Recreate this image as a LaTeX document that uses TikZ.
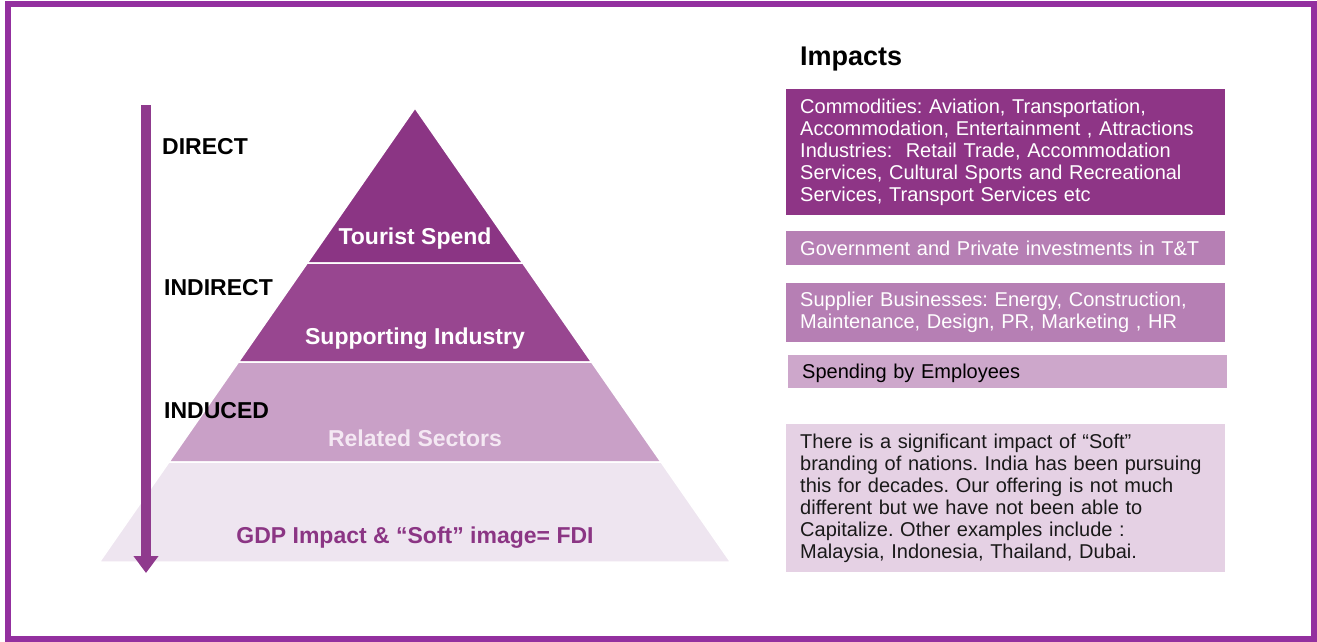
\documentclass[tikz,border=0pt]{standalone}
\usepackage{fontspec}
\setmainfont{Liberation Sans}
\usetikzlibrary{arrows.meta}
\frenchspacing

\definecolor{framepurple}{HTML}{93309F}
\definecolor{flowpurple}{HTML}{8F3A8D}
\definecolor{tierA}{HTML}{8B3584}
\definecolor{tierB}{HTML}{984690}
\definecolor{tierC}{HTML}{C9A0C7}
\definecolor{tierD}{HTML}{EEE5F0}
\definecolor{relatedtext}{HTML}{F4E8F3}
\definecolor{boxA}{HTML}{8E3586}
\definecolor{boxB}{HTML}{B67FB4}
\definecolor{boxC}{HTML}{CDA7CB}
\definecolor{boxD}{HTML}{E5D1E4}

\begin{document}
\begin{tikzpicture}[x=1pt, y=-1pt,
        tierlabel/.style={font=\bfseries\fontsize{23}{26}\selectfont},
        level/.style={anchor=west, inner sep=0pt, font=\bfseries\fontsize{23}{26}\selectfont},
        impact/.style={anchor=north west, minimum width=439pt, inner xsep=14pt, inner ysep=0pt,
            text width=411pt, align=left, font=\fontsize{20}{22}\selectfont}]
            \useasboundingbox (0,0) rectangle (1317,642);

            % pyramid, one band per level
            \foreach \ya/\yb/\col in {108/263/tierA, 263/362/tierB, 362/462/tierC, 462/562/tierD}
                \filldraw[fill=\col, draw=white, line width=1.5pt]
                    ({415-0.695*(\ya-108)},\ya) -- ({415+0.695*(\ya-108)},\ya)
                    -- ({415+0.695*(\yb-108)},\yb) -- ({415-0.695*(\yb-108)},\yb) -- cycle;

            \node[tierlabel, text=white] (spend) at (415,239) {Tourist Spend};
            \node[tierlabel, text=white] (support) at (415,339) {Supporting Industry};
            \node[tierlabel, text=relatedtext] (related) at (415,438) {Related Sectors};
            \node[tierlabel, text=tierA] (gdp) at (415,538) {GDP Impact \& “Soft” image= FDI};

            % downward flow arrow
            \coordinate (flowtop) at (146,105);
            \coordinate (flowend) at (146,573);
            \draw[flowpurple, line width=10pt, -{Triangle[width=24pt,length=17pt]}] (flowtop) -- (flowend);

            \node[level] (direct) at (162,147) {DIRECT};
            \node[level] (indirect) at (164,288) {INDIRECT};
            \node[level] (induced) at (164,411) {INDUCED};

            % impacts column
            \node[anchor=west, inner sep=0pt, font=\bfseries\fontsize{27}{30}\selectfont] (impacts) at (800,59) {Impacts};

            \node[impact, fill=boxA, text=white, minimum height=126pt] (commodities) at (786,89)
                {Commodities: Aviation, Transportation,\\ Accommodation, Entertainment , Attractions\\
                 Industries:\ \ Retail Trade, Accommodation\\ Services, Cultural Sports and Recreational\\
                 Services, Transport Services etc};
            \node[impact, fill=boxB, text=white, minimum height=34pt] (investments) at (786,231)
                {Government and Private investments in T\&T};
            \node[impact, fill=boxB, text=white, minimum height=59pt] (suppliers) at (786,283)
                {Supplier Businesses: Energy, Construction,\\ Maintenance, Design, PR, Marketing , HR};
            \node[impact, fill=boxC, text=black, minimum height=33pt, text depth=1pt] (employees) at (788,355)
                {Spending by Employees};
            \node[impact, fill=boxD, text=black!90, minimum height=148pt] (branding) at (786,424)
                {There is a significant impact of “Soft”\\ branding of nations. India has been pursuing\\
                 this for decades. Our offering is not much\\ different but we have not been able to\\
                 Capitalize. Other examples include :\\ Malaysia, Indonesia, Thailand, Dubai.};

            \draw[framepurple, line width=6pt] (8,4) rectangle (1314,639);
        \end{tikzpicture}
\end{document}
